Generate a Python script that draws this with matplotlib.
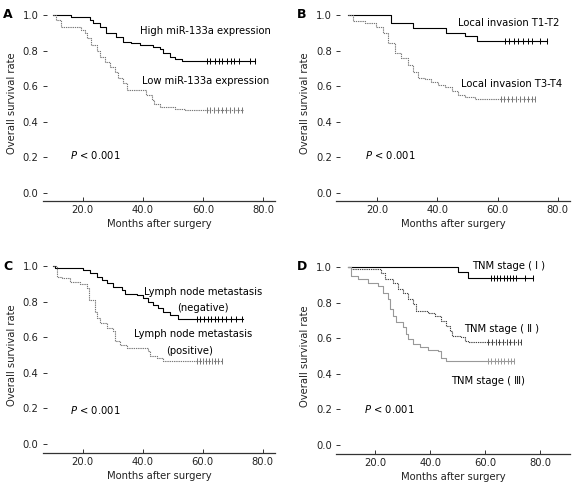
import matplotlib
matplotlib.use("Agg")
import matplotlib.pyplot as plt

plt.rcParams['font.family'] = ['DejaVu Sans', 'Noto Sans CJK SC']

# Panel A: miR-133a expression
a_high_t = [10.1, 16.2, 22.3, 23.4, 25.7, 27.7, 31.2, 33.4, 36.2, 39.0, 43.4, 45.7, 46.8, 49.0, 50.7, 52.9, 77.3]
a_high_s = [1.0, 0.987, 0.97, 0.957, 0.934, 0.897, 0.874, 0.85, 0.84, 0.83, 0.82, 0.807, 0.784, 0.765, 0.75, 0.74, 0.74]
a_high_c = [61.2, 62.5, 63.9, 65.2, 66.5, 67.9, 69.2, 70.5, 71.9, 75.7, 77.3]
a_low_t = [10.1, 11.0, 12.9, 19.6, 20.7, 21.5, 22.9, 24.6, 25.7, 27.3, 29.0, 30.7, 31.8, 33.4, 34.6,
           41.2, 42.9, 43.7, 45.7, 49.0, 50.7, 54.0, 73.2]
a_low_s = [1.0, 0.97, 0.934, 0.916, 0.897, 0.87, 0.83, 0.80, 0.765, 0.737, 0.71, 0.68, 0.644, 0.615, 0.578,
           0.55, 0.52, 0.50, 0.484, 0.48, 0.474, 0.465, 0.465]
a_low_c = [61.2, 62.5, 63.8, 65.1, 66.4, 67.7, 69.0, 70.3, 71.6, 72.9]

# Panel B: local invasion
b_high_t = [10.2, 24.7, 31.9, 42.7, 49.1, 53.3, 76.3]
b_high_s = [1.0, 0.953, 0.925, 0.90, 0.88, 0.855, 0.855]
b_high_c = [62.4, 63.8, 65.3, 66.9, 68.4, 70.0, 71.3, 74.1, 76.3]
b_low_t = [10.2, 11.9, 15.8, 19.7, 21.9, 23.6, 25.8, 28.0, 30.2, 31.9, 33.6, 35.8, 38.0, 40.2, 42.4,
           44.7, 46.9, 49.1, 52.4, 72.4]
b_low_s = [1.0, 0.968, 0.953, 0.934, 0.897, 0.84, 0.784, 0.756, 0.719, 0.681, 0.644, 0.638, 0.625, 0.606,
           0.597, 0.574, 0.55, 0.537, 0.525, 0.525]
b_low_c = [61.0, 62.3, 63.6, 64.9, 66.2, 67.5, 68.8, 70.1, 71.4, 72.4]

# Panel C: lymph node metastasis
c_neg_t = [10.0, 10.8, 20.2, 22.4, 24.7, 26.3, 28.0, 30.2, 33.0, 34.1, 38.0, 40.2, 41.9, 43.6, 45.2,
           46.9, 49.1, 51.9, 73.3]
c_neg_s = [1.0, 0.987, 0.977, 0.958, 0.94, 0.92, 0.903, 0.879, 0.865, 0.841, 0.837, 0.822, 0.80, 0.78,
           0.763, 0.744, 0.725, 0.703, 0.703]
c_neg_c = [58.0, 59.2, 60.4, 61.6, 62.8, 64.0, 65.2, 66.4, 67.6, 69.5, 71.2, 73.0]
c_pos_t = [10.0, 11.3, 13.0, 15.8, 19.1, 21.3, 22.2, 24.1, 24.7, 25.8, 28.0, 30.2, 30.8, 32.4, 34.7,
           41.9, 42.4, 44.7, 46.9, 66.3]
c_pos_s = [1.0, 0.94, 0.931, 0.912, 0.897, 0.875, 0.81, 0.744, 0.707, 0.679, 0.65, 0.632, 0.576, 0.557,
           0.538, 0.52, 0.495, 0.482, 0.467, 0.467]
c_pos_c = [58.0, 59.0, 60.0, 61.0, 62.0, 63.1, 64.1, 65.2, 66.3]

# Panel D: TNM stage
d1_t = [10.2, 50.2, 53.8, 77.5]
d1_s = [1.0, 0.972, 0.94, 0.94]
d1_c = [62.3, 63.4, 64.5, 65.6, 66.7, 67.8, 68.9, 70.0, 71.1, 74.5, 77.5]
d2_t = [10.2, 11.4, 22.3, 23.5, 26.5, 28.4, 30.2, 32.0, 33.8, 35.0, 39.3, 41.7, 44.1, 45.9, 47.2,
        47.8, 51.4, 52.6, 53.8, 73.2]
d2_s = [1.0, 0.987, 0.968, 0.93, 0.912, 0.875, 0.856, 0.82, 0.79, 0.755, 0.744, 0.725, 0.697, 0.67,
        0.64, 0.613, 0.604, 0.585, 0.58, 0.58]
d2_c = [61.1, 62.4, 63.8, 65.1, 66.5, 67.8, 69.1, 70.5, 71.8, 73.2]
d3_t = [10.2, 11.4, 13.8, 17.5, 21.1, 22.9, 24.7, 25.3, 26.5, 27.7, 30.2, 31.4, 32.0, 33.8, 36.3,
        39.3, 42.9, 44.1, 45.9, 70.5]
d3_s = [1.0, 0.95, 0.93, 0.912, 0.893, 0.856, 0.82, 0.763, 0.725, 0.688, 0.66, 0.626, 0.594, 0.566,
        0.548, 0.535, 0.528, 0.49, 0.473, 0.473]
d3_c = [61.1, 62.3, 63.5, 64.6, 65.8, 67.0, 68.2, 69.4, 70.5]

FS = 7.2
dotted = (0, (1.2, 0.8))


def km(ax, t, s, cens, color, ls, lw=0.8):
    ax.step(t, s, where='post', color=color, linestyle=ls, linewidth=lw)
    level = s[-1]
    ax.plot(cens, [level] * len(cens), linestyle='none', marker='|',
            markersize=4.8, markeredgewidth=0.7, color=color)


def style(ax, xlim, ylim):
    ax.set_xlim(*xlim)
    ax.set_ylim(*ylim)
    for side in ['top', 'right', 'left']:
        ax.spines[side].set_visible(False)
    ax.spines['bottom'].set_color('#333333')
    ax.spines['bottom'].set_linewidth(0.9)
    ax.set_xticks([20, 40, 60, 80])
    ax.set_xticklabels(['20.0', '40.0', '60.0', '80.0'])
    ax.set_yticks([0, 0.2, 0.4, 0.6, 0.8, 1.0])
    ax.set_yticklabels(['0.0', '0.2', '0.4', '0.6', '0.8', '1.0'])
    ax.tick_params(direction='in', length=3, width=0.7, labelsize=FS, colors='#333333',
                   labelcolor='#222222', pad=3)
    ax.set_xlabel('Months after surgery', fontsize=FS, color='#222222', labelpad=3)
    ax.set_ylabel('Overall survival rate', fontsize=FS, color='#222222', labelpad=4)


fig = plt.figure(figsize=(5.78, 4.90), dpi=100)
axA = fig.add_axes([0.0739, 0.5898, 0.402, 0.398])
axB = fig.add_axes([0.5813, 0.5898, 0.405, 0.398])
axC = fig.add_axes([0.0739, 0.0755, 0.402, 0.40])
axD = fig.add_axes([0.5813, 0.0735, 0.405, 0.40])

# A
km(axA, a_high_t, a_high_s, a_high_c, 'black', '-')
km(axA, a_low_t, a_low_s, a_low_c, '#777777', dotted)
style(axA, (6.7, 84), (-0.045, 1.05))
axA.text(61, 0.91, 'High miR-133a expression', fontsize=FS, ha='center', va='center')
axA.text(61, 0.628, 'Low miR-133a expression', fontsize=FS, ha='center', va='center')
axA.text(15.7, 0.216, r'$P$ < 0.001', fontsize=FS, ha='left', va='center')

# B
km(axB, b_high_t, b_high_s, b_high_c, 'black', '-')
km(axB, b_low_t, b_low_s, b_low_c, '#777777', dotted)
style(axB, (6.3, 84.1), (-0.045, 1.05))
axB.text(63.7, 0.953, 'Local invasion T1-T2', fontsize=FS, ha='center', va='center')
axB.text(64.7, 0.612, 'Local invasion T3-T4', fontsize=FS, ha='center', va='center')
axB.text(15.9, 0.216, r'$P$ < 0.001', fontsize=FS, ha='left', va='center')

# C
km(axC, c_neg_t, c_neg_s, c_neg_c, 'black', '-')
km(axC, c_pos_t, c_pos_s, c_pos_c, '#777777', dotted)
style(axC, (6.7, 84.1), (-0.05, 1.05))
axC.text(60, 0.856, 'Lymph node metastasis', fontsize=FS, ha='center', va='center')
axC.text(60, 0.766, '(negative)', fontsize=FS, ha='center', va='center')
axC.text(56.9, 0.617, 'Lymph node metastasis', fontsize=FS, ha='center', va='center')
axC.text(55.5, 0.523, '(positive)', fontsize=FS, ha='center', va='center')
axC.text(15.7, 0.189, r'$P$ < 0.001', fontsize=FS, ha='left', va='center')

# D
km(axD, d1_t, d1_s, d1_c, 'black', '-')
km(axD, d2_t, d2_s, d2_c, '#444444', dotted)
km(axD, d3_t, d3_s, d3_c, '#999999', '-')
style(axD, (5.8, 90.9), (-0.05, 1.05))
axD.text(68.4, 1.006, 'TNM stage ( Ⅰ )', fontsize=FS, ha='center', va='center')
axD.text(66, 0.65, 'TNM stage ( Ⅱ )', fontsize=FS, ha='center', va='center')
axD.text(61, 0.36, 'TNM stage ( Ⅲ)', fontsize=FS, ha='center', va='center')
axD.text(16, 0.2, r'$P$ < 0.001', fontsize=FS, ha='left', va='center')

# panel letters
for lab, x, y in [('A', 3, 475), ('B', 297, 475), ('C', 3, 224), ('D', 297, 224)]:
    fig.text(x / 578, y / 490, lab, fontsize=9, fontweight='bold', va='center', ha='left')

fig.savefig('out.png', dpi=100)
